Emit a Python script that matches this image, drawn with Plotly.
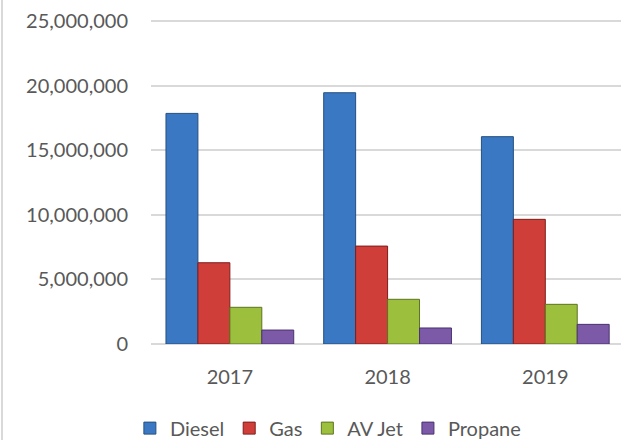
import plotly.graph_objects as go

years = ["2017", "2018", "2019"]
series_names = ["Diesel", "Gas", "AV Jet", "Propane"]
diesel = [17850000, 19450000, 16050000]
gas = [6290000, 7580000, 9650000]
av_jet = [2840000, 3460000, 3070000]
propane = [1080000, 1240000, 1520000]
y_ticks = [0, 5000000, 10000000, 15000000, 20000000, 25000000]

values = [diesel, gas, av_jet, propane]
fills = ["#3b78c3", "#d03e3a", "#9cbf3e", "#7c5aa8"]
edges = ["#24507f", "#7e1d1b", "#5d7420", "#4a3270"]

FONT = "Lato, Calibri, 'Noto Sans', sans-serif"

fig = go.Figure()
for name, vals, fc, ec in zip(series_names, values, fills, edges):
    fig.add_trace(go.Bar(
        x=years, y=vals, name=name,
        marker=dict(color=fc, line=dict(color=ec, width=1)),
    ))

fig.update_layout(
    width=621, height=440,
    margin=dict(l=151, r=0, t=20, b=96),
    paper_bgcolor="white", plot_bgcolor="white",
    barmode="group", bargap=0.19, bargroupgap=0,
    font=dict(family=FONT, size=20, color="#595959"),
    showlegend=True,
    legend=dict(
        orientation="h", xref="container", yref="container",
        x=0.528, xanchor="center", y=0.027, yanchor="middle",
        font=dict(family=FONT, size=20, color="#595959"),
        itemwidth=30, tracegroupgap=0,
    ),
    xaxis=dict(
        type="category", range=[-0.5, 2.48], showgrid=False,
        showline=False, ticks="", ticklabelstandoff=19,
        tickfont=dict(family=FONT, size=20, color="#595959"),
    ),
    yaxis=dict(
        range=[0, 25080000], tickvals=y_ticks, tickformat=",d",
        showgrid=True, gridcolor="#d9d9d9", gridwidth=1.5,
        zeroline=True, zerolinecolor="#d9d9d9", zerolinewidth=2,
        showline=False, ticks="", ticklabelstandoff=22,
        tickfont=dict(family=FONT, size=20, color="#595959"),
    ),
    shapes=[dict(
        type="line", xref="paper", yref="paper",
        xsizemode="pixel", xanchor=0, x0=-149, x1=-149,
        y0=-0.4, y1=1.1, line=dict(color="#d9d9d9", width=2),
    )],
)

fig.write_html(
    "out.html",
    config={"displayModeBar": False},
    post_script="document.body.style.margin='0';document.body.style.overflow='hidden';",
)
